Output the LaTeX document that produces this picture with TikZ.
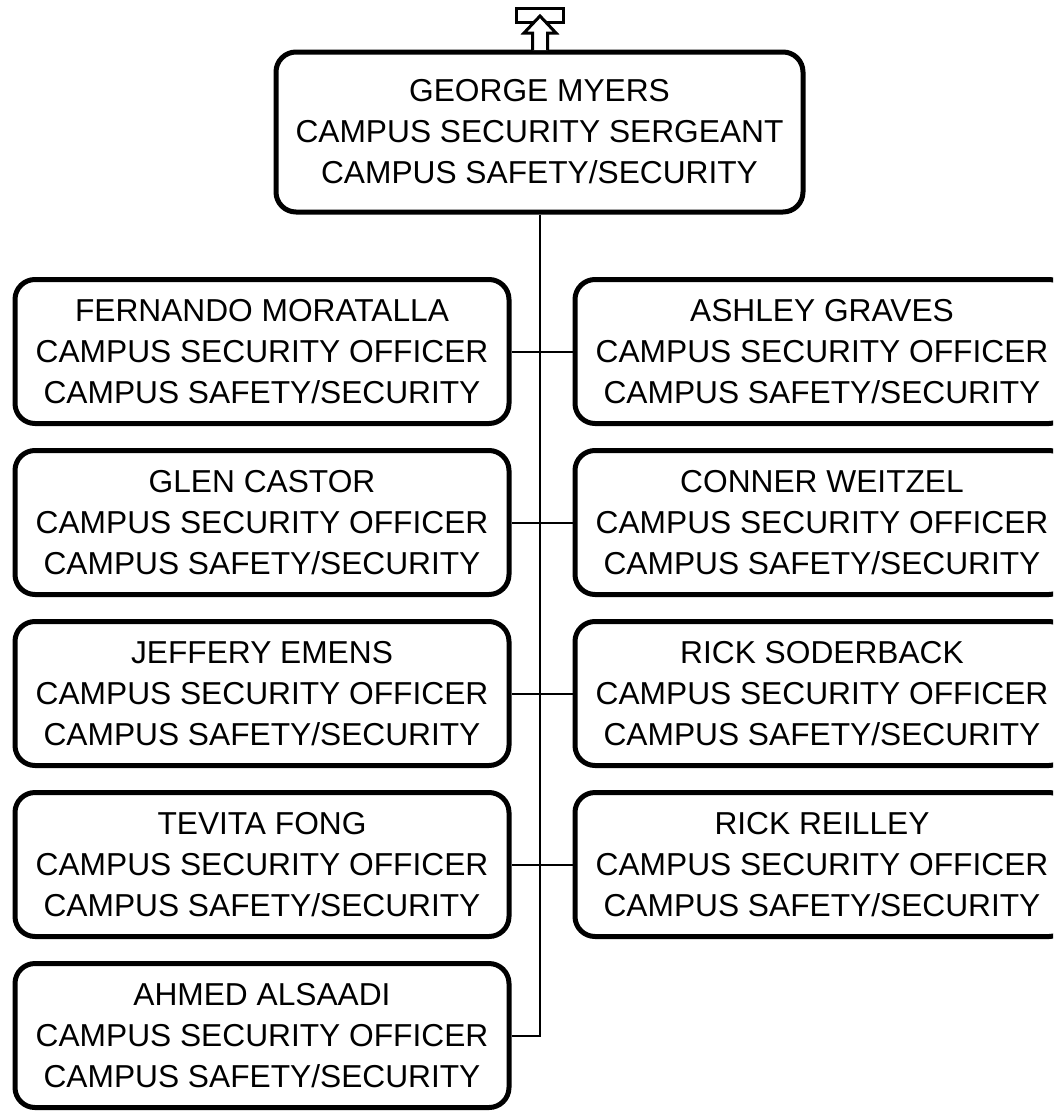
\documentclass[tikz,border=0pt]{standalone}
\usepackage{fontspec}
\setmainfont{Liberation Sans}
\usetikzlibrary{positioning}

\begin{document}
\begin{tikzpicture}[x=1pt,y=-1pt,
  person/.style={draw,line width=5pt,rounded corners=20pt,align=center,
    minimum width=494pt,minimum height=144pt,inner sep=0pt,
    font=\fontsize{31.7}{41}\selectfont},
  boss/.style={person,minimum width=527pt,minimum height=160pt},
  link/.style={line width=2pt}]
  % page frame, 1px = 1pt; right column runs off the edge
  \clip (0,0) rectangle (1053,1111);
  % head of the unit
  \node[boss] (myers) at (539.5,132) {GEORGE MYERS\\CAMPUS SECURITY SERGEANT\\CAMPUS SAFETY/SECURITY};
  % "up one level" marker above the head box
  \draw[line width=3pt] (516,8) rectangle (563,22);
  \filldraw[fill=white,line width=3pt,line join=miter]
    (532.5,50)--(532.5,33)--(524,33)--(540,16)--(556,33)--(547.5,33)--(547.5,50);
  % left column
  \node[person] (fernando) at (262,351.5) {FERNANDO MORATALLA\\CAMPUS SECURITY OFFICER\\CAMPUS SAFETY/SECURITY};
  \node[person] (glen)     at (262,522.5) {GLEN CASTOR\\CAMPUS SECURITY OFFICER\\CAMPUS SAFETY/SECURITY};
  \node[person] (jeffery)  at (262,693.5) {JEFFERY EMENS\\CAMPUS SECURITY OFFICER\\CAMPUS SAFETY/SECURITY};
  \node[person] (tevita)   at (262,864.5) {TEVITA FONG\\CAMPUS SECURITY OFFICER\\CAMPUS SAFETY/SECURITY};
  \node[person] (ahmed)    at (262,1035.5) {AHMED ALSAADI\\CAMPUS SECURITY OFFICER\\CAMPUS SAFETY/SECURITY};
  % right column
  \node[person] (ashley) at (822,351.5) {ASHLEY GRAVES\\CAMPUS SECURITY OFFICER\\CAMPUS SAFETY/SECURITY};
  \node[person] (conner) at (822,522.5) {CONNER WEITZEL\\CAMPUS SECURITY OFFICER\\CAMPUS SAFETY/SECURITY};
  \node[person] (rickS)  at (822,693.5) {RICK SODERBACK\\CAMPUS SECURITY OFFICER\\CAMPUS SAFETY/SECURITY};
  \node[person] (rickR)  at (822,864.5) {RICK REILLEY\\CAMPUS SECURITY OFFICER\\CAMPUS SAFETY/SECURITY};
  % trunk and branches
  \coordinate (trunkEnd) at (541,1035.5);
  \draw[link] (myers.south) |- (trunkEnd);
  \draw[link] (fernando.east) -- (ashley.west);
  \draw[link] (glen.east) -- (conner.west);
  \draw[link] (jeffery.east) -- (rickS.west);
  \draw[link] (tevita.east) -- (rickR.west);
  \draw[link] (ahmed.east) -- (trunkEnd);
\end{tikzpicture}
\end{document}
